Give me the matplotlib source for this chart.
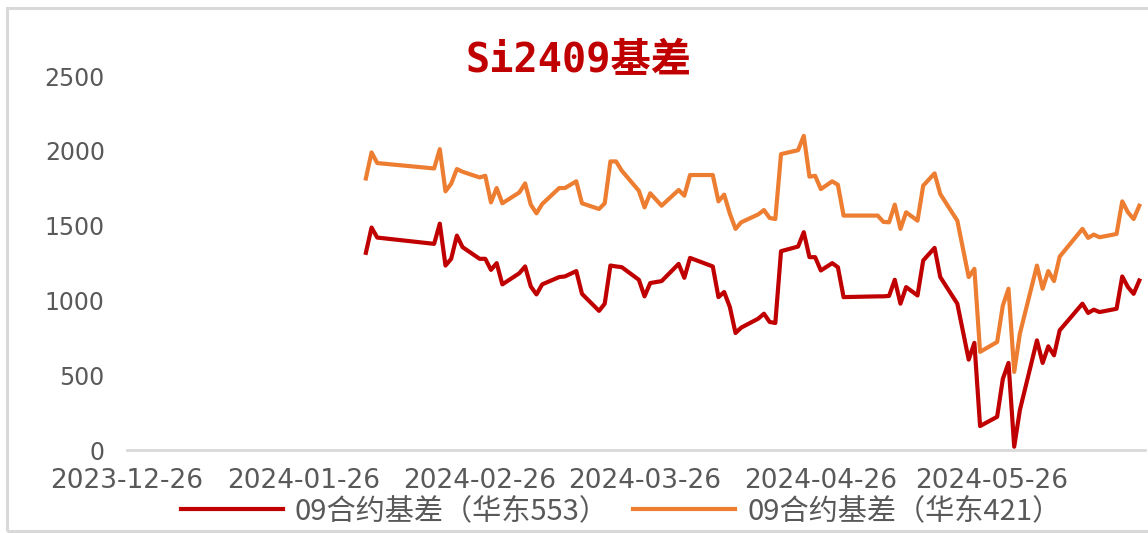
import matplotlib
matplotlib.use("Agg")
import matplotlib.pyplot as plt
import pandas as pd
from matplotlib.patches import Rectangle

plt.rcParams['font.family'] = ['Noto Sans CJK SC', 'DejaVu Sans']

# ---------------- data ----------------
dates = [
    "2024-02-06", "2024-02-07", "2024-02-08", "2024-02-18", "2024-02-19", "2024-02-20",
    "2024-02-21", "2024-02-22", "2024-02-23", "2024-02-26", "2024-02-27", "2024-02-28",
    "2024-02-29", "2024-03-01", "2024-03-04", "2024-03-05", "2024-03-06", "2024-03-07",
    "2024-03-08", "2024-03-11", "2024-03-12", "2024-03-14", "2024-03-15", "2024-03-18",
    "2024-03-19", "2024-03-20", "2024-03-21", "2024-03-22", "2024-03-25", "2024-03-26",
    "2024-03-27", "2024-03-29", "2024-04-01", "2024-04-02", "2024-04-03", "2024-04-07",
    "2024-04-08", "2024-04-09", "2024-04-10", "2024-04-11", "2024-04-12", "2024-04-15",
    "2024-04-16", "2024-04-17", "2024-04-18", "2024-04-19", "2024-04-22", "2024-04-23",
    "2024-04-24", "2024-04-25", "2024-04-26", "2024-04-28", "2024-04-29", "2024-04-30",
    "2024-05-06", "2024-05-07", "2024-05-08", "2024-05-09", "2024-05-10", "2024-05-11",
    "2024-05-13", "2024-05-14", "2024-05-16", "2024-05-17", "2024-05-20", "2024-05-22",
    "2024-05-23", "2024-05-24", "2024-05-27", "2024-05-28", "2024-05-29", "2024-05-30",
    "2024-05-31", "2024-06-03", "2024-06-04", "2024-06-05", "2024-06-06", "2024-06-07",
    "2024-06-11", "2024-06-12", "2024-06-13", "2024-06-14", "2024-06-17", "2024-06-18",
    "2024-06-19", "2024-06-20", "2024-06-21",
]

basis_553 = [
    1318, 1487, 1420, 1378, 1513, 1233,
    1278, 1433, 1356, 1278, 1278, 1204,
    1249, 1107, 1182, 1227, 1093, 1040,
    1107, 1156, 1160, 1196, 1044, 930,
    978, 1233, 1227, 1222, 1138, 1027,
    1116, 1129, 1244, 1151, 1284, 1227,
    1022, 1056, 956, 782, 818, 878,
    911, 856, 849, 1329, 1360, 1456,
    1289, 1289, 1200, 1249, 1222, 1022,
    1027, 1027, 1030, 1138, 978, 1089,
    1033, 1267, 1351, 1156, 978, 604,
    716, 160, 222, 475, 582, 22,
    267, 733, 582, 693, 633, 800,
    978, 916, 938, 922, 944, 1160,
    1089, 1044, 1133,
]

basis_421 = [
    1815, 1989, 1918, 1882, 2011, 1729,
    1780, 1878, 1860, 1822, 1833, 1655,
    1751, 1649, 1722, 1782, 1640, 1582,
    1644, 1751, 1751, 1796, 1649, 1611,
    1649, 1929, 1929, 1867, 1733, 1622,
    1716, 1633, 1738, 1700, 1838, 1838,
    1662, 1707, 1580, 1478, 1522, 1575,
    1604, 1551, 1544, 1978, 2004, 2100,
    1827, 1833, 1744, 1796, 1773, 1567,
    1567, 1525, 1522, 1640, 1478, 1589,
    1533, 1767, 1849, 1711, 1533, 1156,
    1211, 656, 722, 965, 1078, 522,
    778, 1233, 1078, 1196, 1129, 1293,
    1478, 1418, 1440, 1422, 1444, 1662,
    1589, 1544, 1633,
]

series_names = ["09合约基差（华东553）", "09合约基差（华东421）"]
x_tick_labels = ["2023-12-26", "2024-01-26", "2024-02-26", "2024-03-26", "2024-04-26", "2024-05-26"]
y_ticks = [0, 500, 1000, 1500, 2000, 2500]
title = "Si2409基差"

# ---------------- plot ----------------
W, H = 1148, 533
fig = plt.figure(figsize=(W / 100, H / 100), dpi=100)

# light frame around the chart area
fig.patches.append(Rectangle((7 / W, 2 / H), 1.2, 523 / H, transform=fig.transFigure,
                             fill=False, edgecolor='#d9d9d9', linewidth=2.2))

ax = fig.add_axes([127 / W, (H - 450) / H, (1145 - 127) / W, (450 - 76) / H])

d = pd.to_datetime(dates)
red = '#c00000'
orange = '#ed7d31'
ax.plot(d, basis_553, color=red, lw=3.0, label=series_names[0], solid_joinstyle='round')
ax.plot(d, basis_421, color=orange, lw=3.0, label=series_names[1], solid_joinstyle='round')

ax.set_xlim(pd.Timestamp("2023-12-26"), pd.Timestamp("2024-06-22"))
ax.set_ylim(0, 2500)
ax.set_xticks(pd.to_datetime(x_tick_labels))
ax.set_xticklabels(x_tick_labels, fontfamily='DejaVu Sans', fontsize=19)
ax.set_yticks(y_ticks)
ax.set_yticklabels([str(v) for v in y_ticks], fontfamily='DejaVu Sans', fontsize=17)

for s in ['top', 'right', 'left']:
    ax.spines[s].set_visible(False)
ax.spines['bottom'].set_color('#d9d9d9')
ax.spines['bottom'].set_linewidth(2.0)
ax.spines['bottom'].set_zorder(0)
ax.tick_params(axis='both', length=0, colors='#595959')
ax.tick_params(axis='x', pad=13)
ax.tick_params(axis='y', pad=16)
ax.grid(False)

fig.text(578 / W, (H - 61) / H, title, ha='center', va='center', color=red,
         fontsize=29, fontweight='bold', family=['DejaVu Sans Mono', 'Noto Sans CJK SC'])

leg = fig.legend(loc='center', bbox_to_anchor=(621 / W, (H - 511) / H), ncol=2,
                 frameon=False, fontsize=21, handlelength=3.5, handletextpad=0.4,
                 columnspacing=0.85)
for t in leg.get_texts():
    t.set_color('#595959')

fig.savefig("out.png", dpi=100)
